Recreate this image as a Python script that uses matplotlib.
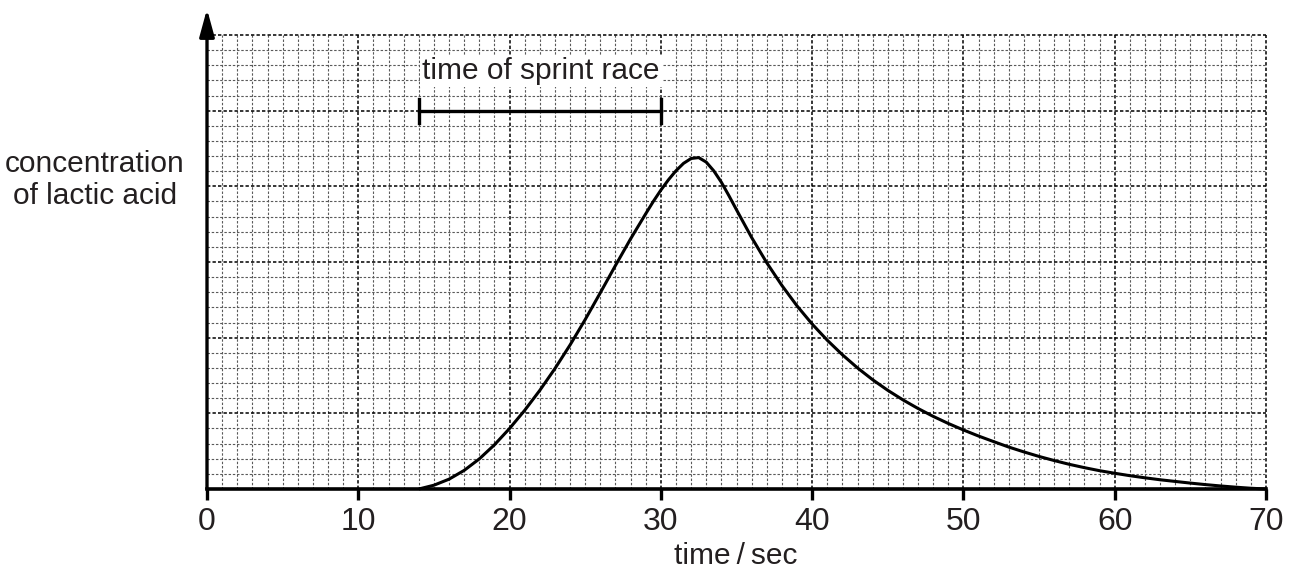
import matplotlib
matplotlib.use("Agg")
import matplotlib.pyplot as plt
import numpy as np

# ---- data ----
time_s = [14, 15, 16, 17, 18, 19, 20, 21, 22, 23, 24, 25, 26, 27, 28, 29, 29.5,
          30, 30.5, 31, 31.5, 32, 32.5, 33, 33.5, 34, 34.5, 35, 36, 37, 38, 39,
          40, 41, 42, 43, 44, 45, 46, 47, 48, 49, 50, 51, 52, 53, 54, 55, 56,
          57, 58, 59, 60, 61, 62, 63, 64, 65, 66, 67, 68, 69, 70]
lactic = [0.0, 0.25, 0.65, 1.23, 1.99, 2.92, 4.0, 5.2, 6.52, 7.96, 9.52, 11.2,
          12.97, 14.77, 16.53, 18.19, 19.0, 19.75, 20.43, 21.03, 21.52, 21.84,
          21.9, 21.6, 21.02, 20.27, 19.38, 18.45, 16.62, 14.95, 13.45, 12.1,
          10.9, 9.83, 8.87, 8.0, 7.22, 6.52, 5.89, 5.32, 4.8, 4.33, 3.9, 3.5,
          3.13, 2.77, 2.45, 2.15, 1.88, 1.63, 1.41, 1.21, 1.04, 0.88, 0.74,
          0.61, 0.5, 0.39, 0.29, 0.2, 0.12, 0.05, 0.0]
sprint_start, sprint_end = 14, 30
sprint_level = 25
x_ticks = [0, 10, 20, 30, 40, 50, 60, 70]
x_tick_labels = ["0", "10", "20", "30", "40", "50", "60", "70"]

TXT = "#231f20"
plt.rcParams['font.family'] = ['Liberation Sans', 'DejaVu Sans']

W, H = 1296, 579
fig = plt.figure(figsize=(W / 100, H / 100), dpi=100)
ax = fig.add_axes([207 / W, (H - 489) / H, (1266 - 207) / W, 454 / H])
ax.set_xlim(0, 70)
ax.set_ylim(0, 30)

# grid
ax.set_xticks(x_ticks)
ax.set_xticklabels(x_tick_labels, fontsize=23, color=TXT)
ax.set_xticks(np.arange(0, 71, 1), minor=True)
ax.set_yticks(np.arange(0, 31, 5))
ax.set_yticks(np.arange(0, 31, 1), minor=True)
ax.set_yticklabels([])
ax.tick_params(axis='y', which='both', length=0)
ax.tick_params(axis='x', which='minor', length=0)
ax.tick_params(axis='x', which='major', length=8, width=2.4, direction='out',
               pad=5, color='black')
ax.grid(which='minor', color='#5a5a5a', linewidth=0.8, linestyle=(0, (2.2, 1.6)))
ax.grid(which='major', color='black', linewidth=1.1, linestyle=(0, (2.2, 1.4)))
for gl in ax.get_xgridlines() + ax.get_ygridlines():
    gl.set_clip_on(False)
ax.set_axisbelow(True)

for s in ['top', 'right', 'left']:
    ax.spines[s].set_visible(False)
ax.spines['bottom'].set_linewidth(2.6)
ax.spines['bottom'].set_zorder(5)

# y axis with arrow
ax.annotate('', xy=(0, (489 - 9) / 454), xytext=(0, 0),
            xycoords='axes fraction', textcoords='axes fraction',
            arrowprops=dict(arrowstyle='-|>,head_length=1.1,head_width=0.3',
                            mutation_scale=15, lw=2.4, color='black',
                            shrinkA=0, shrinkB=0),
            annotation_clip=False, zorder=6)

# curve
ax.plot(time_s, lactic, color='black', linewidth=2.2, solid_joinstyle='round',
        solid_capstyle='butt', zorder=4, clip_on=False)

# sprint bar
ax.plot([sprint_start, sprint_end], [sprint_level, sprint_level], color='black',
        linewidth=2.4, zorder=4)
for xv in (sprint_start, sprint_end):
    ax.plot([xv, xv], [sprint_level - 0.8, sprint_level + 0.8], color='black',
            linewidth=2.4, zorder=4)
ax.text(sprint_start + 0.22, 27.6, "time of sprint race", fontsize=21.5, color=TXT,
        ha='left', va='center', zorder=4,
        bbox=dict(facecolor='white', edgecolor='none', pad=1.5))

# labels
fig.text(95 / W, 1 - 180 / H, "concentration\nof lactic acid", fontsize=21.5,
         color=TXT, ha='center', va='center', linespacing=1.15)
fig.text(736 / W, 1 - 556 / H, "time\u2009/\u2009sec", fontsize=21.5, color=TXT,
         ha='center', va='center')

fig.savefig("out.png", dpi=100)
